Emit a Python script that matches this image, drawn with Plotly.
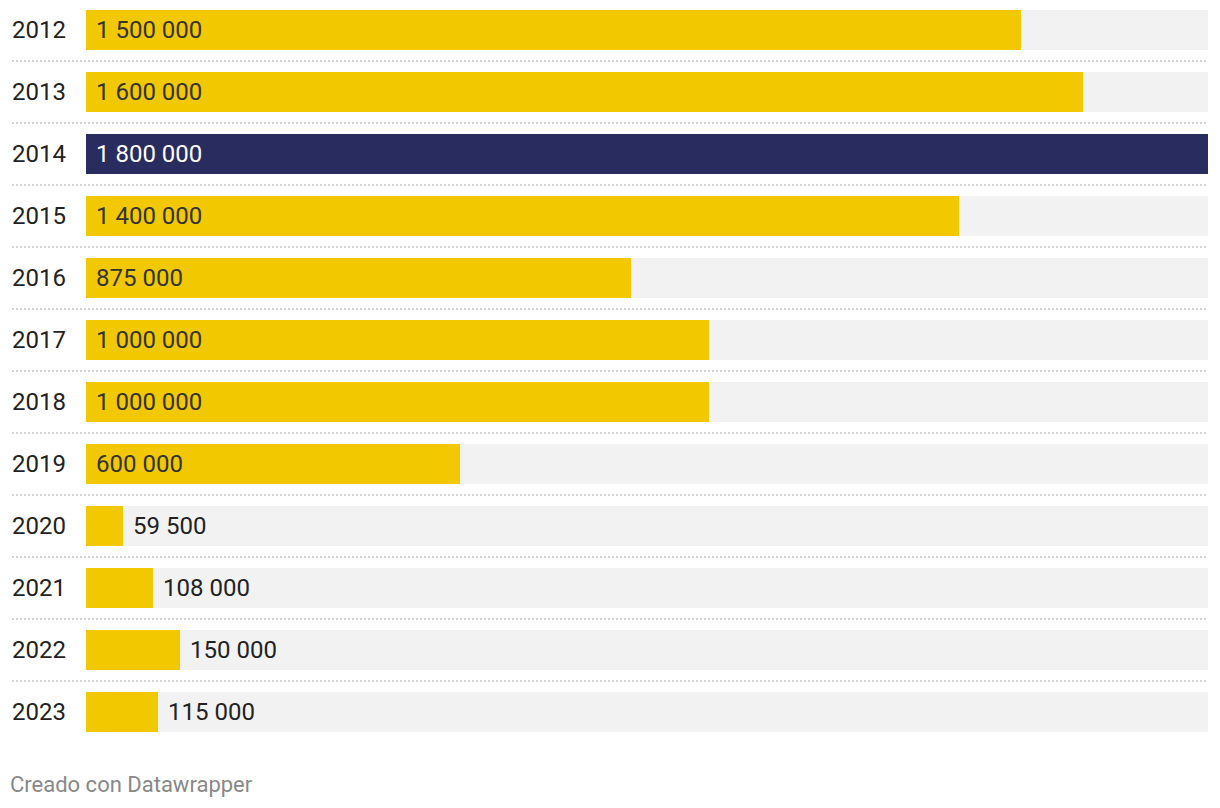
import plotly.graph_objects as go

years = ["2012", "2013", "2014", "2015", "2016", "2017", "2018", "2019", "2020", "2021", "2022", "2023"]
values = [1500000, 1600000, 1800000, 1400000, 875000, 1000000, 1000000, 600000, 59500, 108000, 150000, 115000]
highlight_year = "2014"

W, H = 1220, 808
X0, X1 = 86, 1208
ROW0, PITCH, BAR_H = 30, 62, 40

YELLOW = "#f2c800"
NAVY = "#282c5e"
BG = "#f2f2f2"
FONT = "Roboto"

vmax = max(values)
n = len(years)

def fmt(v):
    return f"{v:,}".replace(",", " ")

colors = [NAVY if y == highlight_year else YELLOW for y in years]

fig = go.Figure()
fig.add_trace(go.Bar(
    y=years, x=[vmax] * n, orientation="h",
    marker=dict(color=BG, line=dict(width=0)),
    width=BAR_H / PITCH, hoverinfo="skip", showlegend=False,
))
fig.add_trace(go.Bar(
    y=years, x=values, orientation="h",
    marker=dict(color=colors, line=dict(width=0)),
    width=BAR_H / PITCH, showlegend=False,
))

annotations = []
for i, (y, v) in enumerate(zip(years, values)):
    inside = v > 0.25 * vmax
    if inside:
        annotations.append(dict(
            x=0, y=i, xref="x", yref="y", text=fmt(v), showarrow=False,
            xanchor="left", yanchor="middle", xshift=8,
            font=dict(family=FONT, size=24, color="#ffffff" if y == highlight_year else "#333333"),
        ))
    else:
        annotations.append(dict(
            x=v, y=i, xref="x", yref="y", text=fmt(v), showarrow=False,
            xanchor="left", yanchor="middle", xshift=8,
            font=dict(family=FONT, size=24, color="#222222"),
        ))
    annotations.append(dict(
        x=10 / W, y=i, xref="paper", yref="y", text=y, showarrow=False,
        xanchor="left", yanchor="middle",
        font=dict(family=FONT, size=24, color="#222222"),
    ))

annotations.append(dict(
    x=8 / W, y=1 - 784 / H, xref="paper", yref="paper", text="Creado con Datawrapper",
    showarrow=False, xanchor="left", yanchor="middle",
    font=dict(family=FONT, size=22, color="#888888"),
))

shapes = []
for i in range(n - 1):
    shapes.append(dict(
        type="line", xref="paper", yref="y",
        x0=12 / W, x1=X1 / W, y0=i + 0.5, y1=i + 0.5,
        line=dict(color="#d4d4d4", width=2, dash="2px,2px"),
        layer="below",
    ))

fig.update_layout(
    width=W, height=H,
    margin=dict(l=0, r=0, t=0, b=0),
    paper_bgcolor="white", plot_bgcolor="white",
    barmode="overlay", bargap=0,
    xaxis=dict(domain=[X0 / W, X1 / W], range=[0, vmax], visible=False, fixedrange=True),
    yaxis=dict(type="category", categoryorder="array", categoryarray=years,
               range=[(H - ROW0) / PITCH, -ROW0 / PITCH], domain=[0, 1],
               visible=False, fixedrange=True),
    annotations=annotations,
    shapes=shapes,
    font=dict(family=FONT),
)

fig.write_html(
    "out.html",
    config={"displayModeBar": False},
    post_script="document.body.style.margin='0';document.body.style.overflow='hidden';",
)
